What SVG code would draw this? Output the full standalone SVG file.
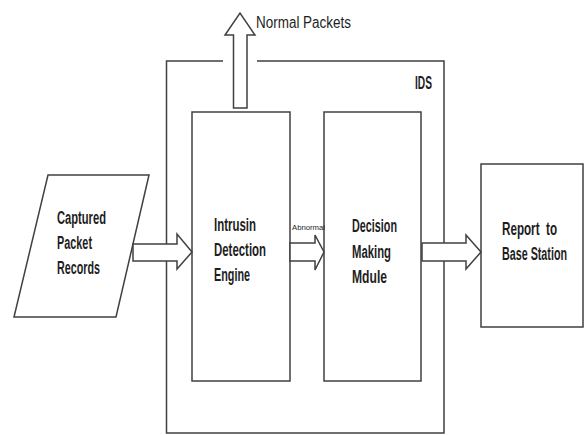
<svg xmlns="http://www.w3.org/2000/svg" width="584" height="435" viewBox="0 0 584 435">
<style>
.ln{fill:none;stroke:#404040;stroke-width:1.5}
.bx{fill:#fff;stroke:#404040;stroke-width:1.5}
.t{font-family:"Liberation Sans",Arial,sans-serif;font-size:18px;font-weight:bold;fill:#1e1e1e}
.n{font-family:"Liberation Sans",Arial,sans-serif;font-size:16px;fill:#1e1e1e}
.s{font-family:"Liberation Sans",Arial,sans-serif;font-size:8px;fill:#1e1e1e}
</style>
<rect width="584" height="435" fill="#fff"/>
<g id="ids">
<path class="ln" d="M223,61 H166.5 V433 H444 V61 H257"/>
<text class="t" x="415" y="89" textLength="17" lengthAdjust="spacingAndGlyphs">IDS</text>
</g>
<g id="captured">
<polygon class="bx" points="48,175 149,175 116,317 14,317"/>
<text class="t" x="57" y="224" textLength="49" lengthAdjust="spacingAndGlyphs">Captured</text>
<text class="t" x="57" y="249" textLength="35" lengthAdjust="spacingAndGlyphs">Packet</text>
<text class="t" x="57" y="274" textLength="43" lengthAdjust="spacingAndGlyphs">Records</text>
</g>
<g id="engine">
<rect class="bx" x="192" y="112" width="98" height="269"/>
<text class="t" x="214" y="231" textLength="42" lengthAdjust="spacingAndGlyphs">Intrusin</text>
<text class="t" x="214" y="256" textLength="52" lengthAdjust="spacingAndGlyphs">Detection</text>
<text class="t" x="214" y="281" textLength="36" lengthAdjust="spacingAndGlyphs">Engine</text>
</g>
<g id="decision">
<rect class="bx" x="324" y="112" width="97" height="269"/>
<text class="t" x="352" y="232" textLength="45" lengthAdjust="spacingAndGlyphs">Decision</text>
<text class="t" x="352" y="258" textLength="39" lengthAdjust="spacingAndGlyphs">Making</text>
<text class="t" x="352" y="283" textLength="35" lengthAdjust="spacingAndGlyphs">Mdule</text>
</g>
<g id="report">
<rect class="bx" x="481" y="164" width="102" height="163"/>
<text class="t" x="502" y="235" textLength="55" lengthAdjust="spacingAndGlyphs" xml:space="preserve">Report  to</text>
<text class="t" x="502" y="260" textLength="65" lengthAdjust="spacingAndGlyphs">Base Station</text>
</g>
<g id="connectors">
<polygon class="bx" points="133,244 177,244 177,234 192,252 177,269 177,261 133,261"/>
<polygon class="bx" points="290,243 315,243 315,235 324,252 315,270 315,261 290,261"/>
<polygon class="bx" points="422,243 466,243 466,235 481,252 466,269 466,261 422,261"/>
<polygon class="bx" points="233.5,108 233.5,35 225,35 240,13 255,35 247,35 247,108"/>
<text class="n" x="256" y="28" textLength="95" lengthAdjust="spacingAndGlyphs">Normal Packets</text>
<text class="s" x="292" y="230" textLength="33" lengthAdjust="spacingAndGlyphs">Abnormal</text>
</g>
</svg>
